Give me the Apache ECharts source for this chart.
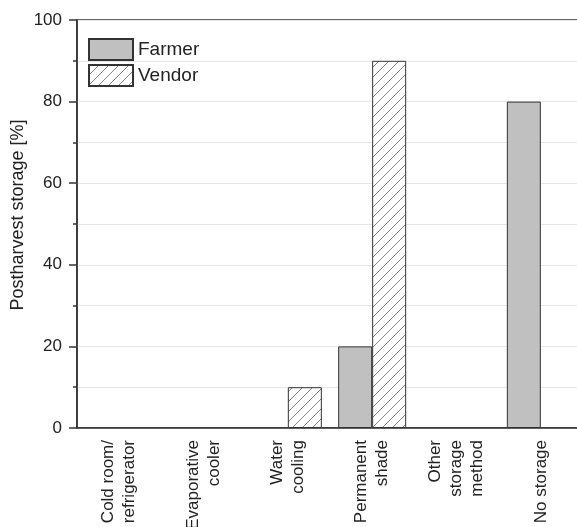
<!DOCTYPE html>
<html>
<head>
<meta charset="utf-8">
<script src="https://cdn.jsdelivr.net/npm/echarts@6/dist/echarts.min.js"></script>
<style>
  html, body { margin: 0; padding: 0; background: #fff; }
  #chart { width: 577px; height: 527px; }
</style>
</head>
<body>
<div id="chart"></div>
<script>
const categories = [
  'Cold room/\nrefrigerator',
  'Evaporative\ncooler',
  'Water\ncooling',
  'Permanent\nshade',
  'Other\nstorage\nmethod',
  'No storage',
];
const farmerValues = [0, 0, 0, 20, 0, 80];
const vendorValues = [0, 0, 10, 90, 0, 0];

const font = 'Liberation Sans, Arial, sans-serif';
const ink = '#222';

// zero bars are not drawn in the original
const noZero = (arr) => arr.map((v) => (v === 0 ? '-' : v));

// diagonal hatch for the vendor bars
const makeHatch = () => {
  const c = document.createElement('canvas');
  c.width = 10;
  c.height = 10;
  const ctx = c.getContext('2d');
  ctx.fillStyle = '#fff';
  ctx.fillRect(0, 0, 10, 10);
  ctx.strokeStyle = '#666';
  ctx.lineWidth = 0.8;
  ctx.beginPath();
  ctx.moveTo(-1, 11);
  ctx.lineTo(11, -1);
  ctx.moveTo(-2, 2);
  ctx.lineTo(2, -2);
  ctx.moveTo(8, 12);
  ctx.lineTo(12, 8);
  ctx.stroke();
  return c;
};

const chart = echarts.init(document.getElementById('chart'));
chart.setOption({
  animation: false,
  textStyle: { fontFamily: font },
  grid: {
    left: 77,
    right: -6,
    top: 20,
    bottom: 99,
    outerBoundsMode: 'none',
    containLabel: false,
    show: true,
    borderColor: '#333',
    borderWidth: 1.5,
  },
  legend: {
    orient: 'vertical',
    left: 88,
    top: 38,
    padding: 0,
    itemWidth: 44,
    itemHeight: 21,
    itemGap: 3,
    icon: 'rect',
    textStyle: { fontSize: 19, color: ink, fontFamily: font },
    data: ['Farmer', 'Vendor'],
  },
  xAxis: [
    {
      type: 'category',
      position: 'bottom',
      data: categories,
      axisLine: { lineStyle: { color: '#333', width: 1.5 } },
      axisTick: { alignWithLabel: true, length: 7, lineStyle: { color: '#333', width: 1.5 } },
      axisLabel: {
        rotate: 90,
        margin: 12,
        fontSize: 17,
        lineHeight: 21,
        color: ink,
        fontFamily: font,
        interval: 0,
      },
    },
    {
      type: 'category',
      position: 'bottom',
      data: categories,
      axisLine: { show: false },
      axisTick: { length: 4, lineStyle: { color: '#333', width: 1.5 } },
      axisLabel: { show: false },
    },
  ],
  yAxis: {
    type: 'value',
    min: 0,
    max: 100,
    interval: 20,
    name: 'Postharvest storage [%]',
    nameLocation: 'middle',
    nameGap: 50,
    nameMoveOverlap: false,
    nameTextStyle: { fontSize: 18, color: ink, fontFamily: font, padding: [0, 0, 0, 18] },
    axisLine: { show: true, lineStyle: { color: '#333', width: 1.5 } },
    axisTick: { show: true, length: 8, lineStyle: { color: '#333', width: 1.5 } },
    minorTick: { show: true, splitNumber: 2, length: 4, lineStyle: { color: '#333', width: 1.5 } },
    axisLabel: { fontSize: 17, color: ink, margin: 15, fontFamily: font },
    splitLine: { lineStyle: { color: '#e6e6e6' } },
    minorSplitLine: { show: true, lineStyle: { color: '#e6e6e6' } },
  },
  series: [
    {
      name: 'Farmer',
      type: 'bar',
      xAxisIndex: 0,
      barWidth: 34,
      barGap: '0%',
      data: noZero(farmerValues),
      itemStyle: { color: '#c0c0c0', borderColor: '#333', borderWidth: 1 },
    },
    {
      name: 'Vendor',
      type: 'bar',
      xAxisIndex: 0,
      barWidth: 34,
      barGap: '0%',
      data: noZero(vendorValues),
      itemStyle: {
        color: { image: makeHatch(), repeat: 'repeat' },
        borderColor: '#333',
        borderWidth: 1,
      },
    },
  ],
});
</script>
</body>
</html>
